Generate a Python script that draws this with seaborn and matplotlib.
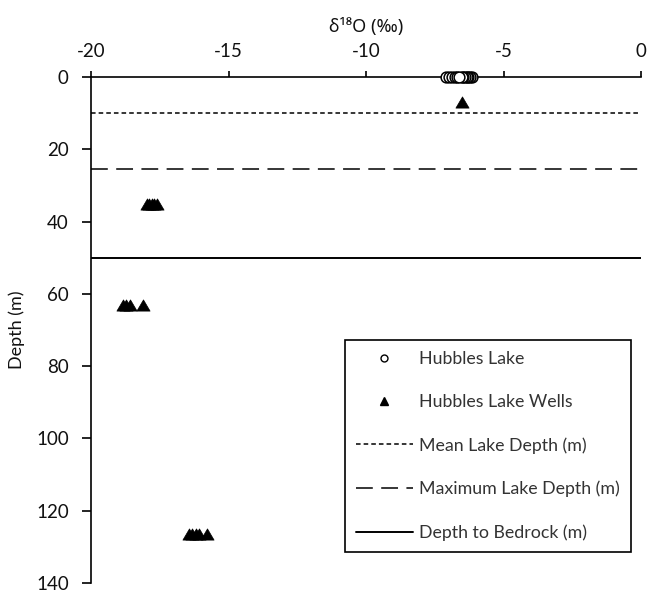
import matplotlib
matplotlib.use("Agg")
import matplotlib.pyplot as plt
import numpy as np
import pandas as pd
import seaborn as sns
from matplotlib.lines import Line2D
from matplotlib.path import Path

# Surface lake water samples (depth 0 m)
lake_d18o = [-7.08, -6.98, -6.88, -6.78, -6.70,
             -6.16, -6.22, -6.28, -6.34, -6.40, -6.46, -6.52, -6.63]
lake_depth = [0] * len(lake_d18o)

# Groundwater well samples
well_d18o = [-6.50,
             -17.98, -17.88, -17.78, -17.70, -17.61,
             -18.85, -18.72, -18.58, -18.12,
             -16.45, -16.32, -16.20, -16.07, -15.77]
well_depth = [7,
              35, 35, 35, 35, 35,
              63, 63, 63, 63,
              126.5, 126.5, 126.5, 126.5, 126.5]

# Reference depths (m)
mean_lake_depth = 10
max_lake_depth = 25.5
bedrock_depth = 50

x_ticks = [-20, -15, -10, -5, 0]
y_ticks = [0, 20, 40, 60, 80, 100, 120, 140]

lake = pd.DataFrame({"d18O": lake_d18o, "Depth": lake_depth})
wells = pd.DataFrame({"d18O": well_d18o, "Depth": well_depth})

sns.set_theme(style="white")
plt.rcParams["font.family"] = ["Lato", "Noto Sans", "DejaVu Sans"]

fig = plt.figure(figsize=(6.47, 5.94), dpi=100)
ax = fig.add_axes([91 / 647, 1 - 583 / 594, (641 - 91) / 647, (583 - 77) / 594])

# wide, slightly squat triangle marker
tri = Path([(-1, -0.85), (1, -0.85), (0, 0.85), (-1, -0.85)],
           [Path.MOVETO, Path.LINETO, Path.LINETO, Path.CLOSEPOLY])

ax.axhline(mean_lake_depth, color="black", lw=1.1, ls=(0, (3, 2)), zorder=1)
ax.axhline(max_lake_depth, color="black", lw=1.1, ls=(0, (11, 5.5)), zorder=1)
ax.axhline(bedrock_depth, color="black", lw=1.4, ls="-", zorder=1)

sns.scatterplot(data=lake, x="d18O", y="Depth", ax=ax, marker="o", s=60,
                facecolor="white", edgecolor="black", linewidth=1.1,
                zorder=3, legend=False, clip_on=False)
sns.scatterplot(data=wells, x="d18O", y="Depth", ax=ax, marker=tri, s=90,
                color="black", edgecolor="black", linewidth=0.5,
                zorder=3, legend=False, clip_on=False)

ax.set_xlim(-20, 0)
ax.set_ylim(140, 0)
ax.set_xticks(x_ticks)
ax.set_yticks(y_ticks)
ax.set_xticklabels([str(v) for v in x_ticks])
ax.set_yticklabels([str(v) for v in y_ticks])

ax.xaxis.tick_top()
ax.xaxis.set_label_position("top")
for side in ["right", "bottom"]:
    ax.spines[side].set_visible(False)
for side in ["top", "left"]:
    ax.spines[side].set_color("black")
    ax.spines[side].set_linewidth(1.2)

ax.tick_params(axis="x", direction="out", length=4.5, width=1.2, color="black",
               pad=7.5, labelsize=13.5, labelcolor="#111111", top=True, bottom=False)
ax.tick_params(axis="y", direction="out", length=6.5, width=1.2, color="black",
               pad=9.5, labelsize=13.5, labelcolor="#111111", left=True)

ax.set_xlabel("δ¹⁸O (‰)", fontsize=13, labelpad=8.5, color="#111111",
              family=["Noto Sans", "DejaVu Sans"])
ax.set_ylabel("Depth (m)", fontsize=13, labelpad=8, color="#111111")

handles = [
    Line2D([], [], ls="none", marker="o", markersize=5, mfc="white",
           mec="black", mew=1.0, label="Hubbles Lake"),
    Line2D([], [], ls="none", marker="^", markersize=5.5, mfc="black",
           mec="black", label="Hubbles Lake Wells"),
    Line2D([], [], color="black", lw=1.1, ls=(0, (3, 2)),
           label="Mean Lake Depth (m)"),
    Line2D([], [], color="black", lw=1.1, ls=(0, (11, 5.5)),
           label="Maximum Lake Depth (m)"),
    Line2D([], [], color="black", lw=1.4, ls="-",
           label="Depth to Bedrock (m)"),
]
leg = ax.legend(handles=handles, loc="upper left",
                bbox_to_anchor=(345 / 647, 1 - 340 / 594),
                bbox_transform=fig.transFigure, borderaxespad=0,
                frameon=True, fancybox=False, framealpha=1,
                edgecolor="black", fontsize=12.8, labelspacing=1.52,
                handlelength=3.2, handletextpad=0.35, borderpad=0.62)
leg.get_frame().set_linewidth(1.2)
for t in leg.get_texts():
    t.set_color("#333333")

fig.savefig("out.png", dpi=100, facecolor="white")
